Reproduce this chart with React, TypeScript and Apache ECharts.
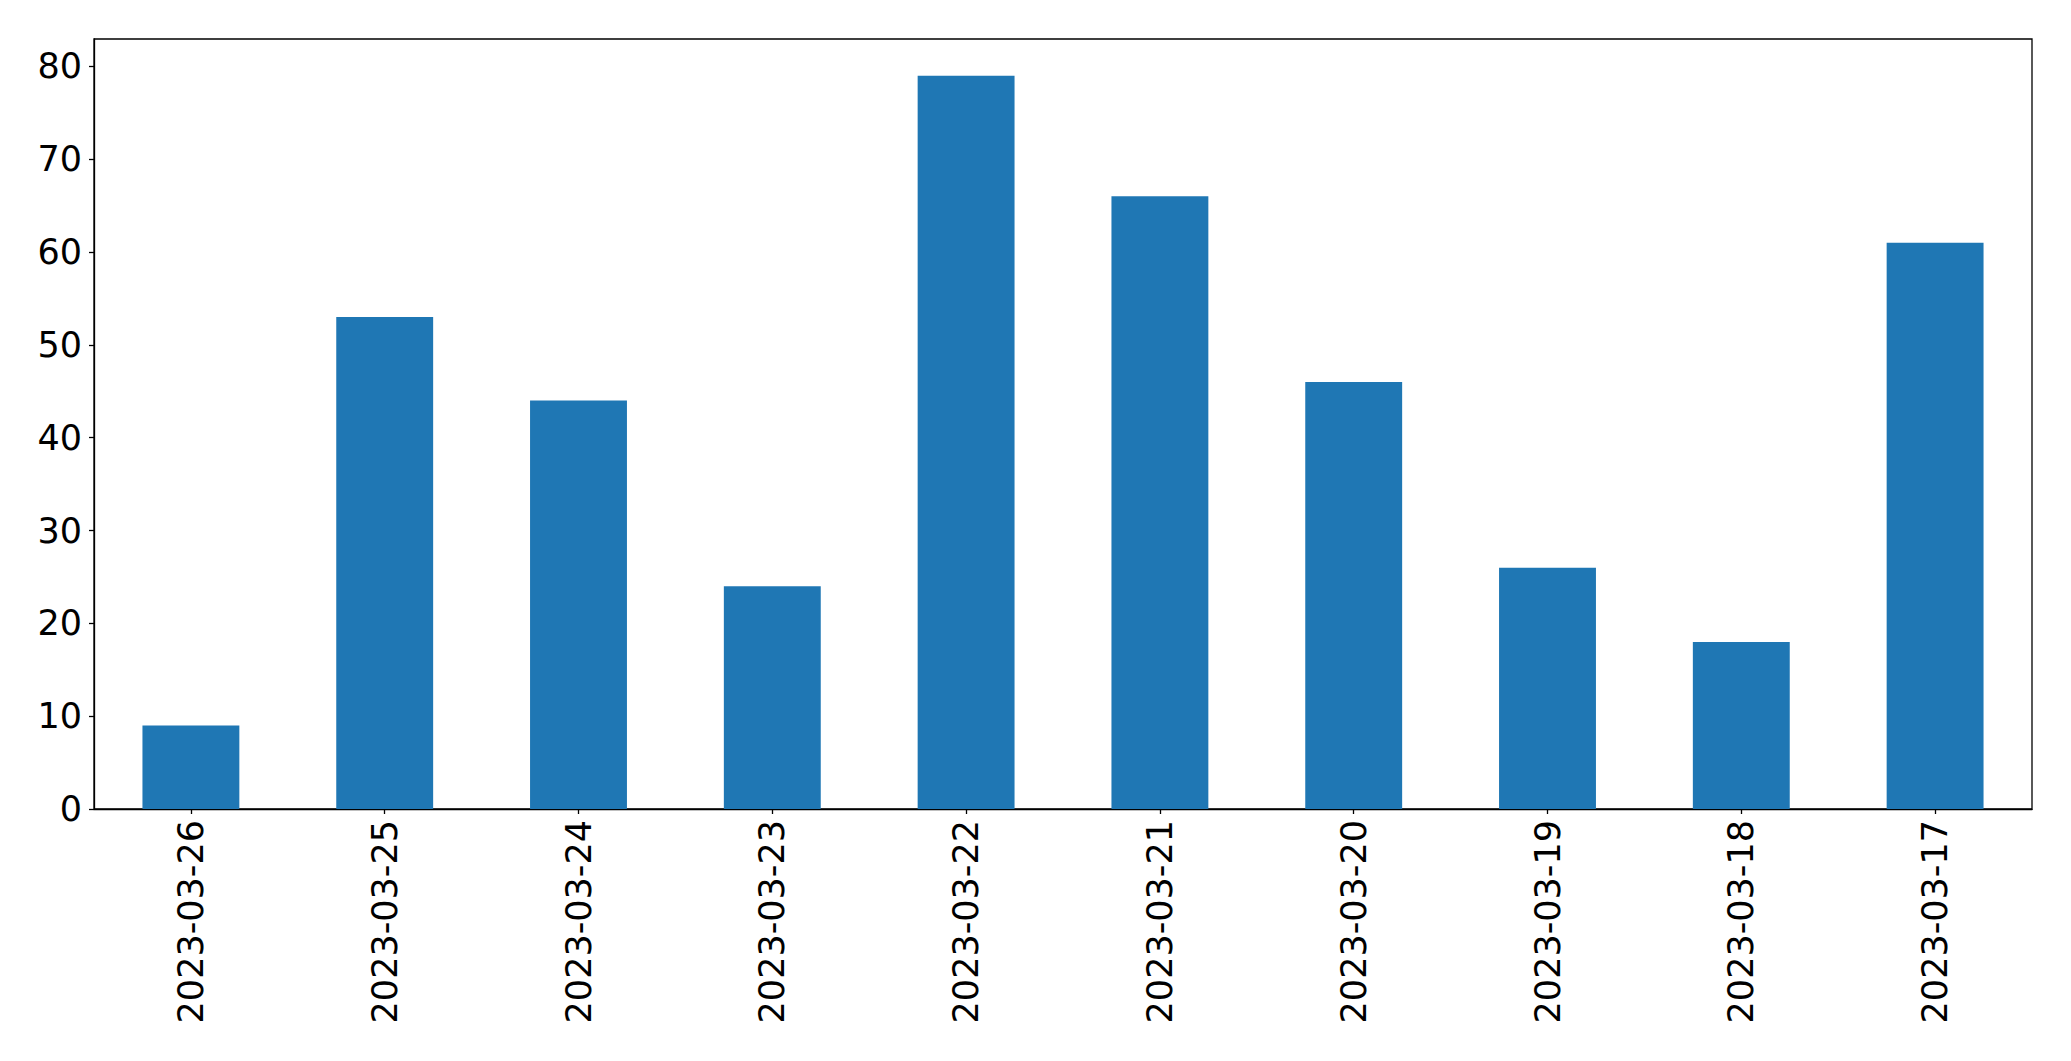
import React, { useEffect, useRef } from "react";
import * as echarts from "echarts";

const categories = [
  "2023-03-26",
  "2023-03-25",
  "2023-03-24",
  "2023-03-23",
  "2023-03-22",
  "2023-03-21",
  "2023-03-20",
  "2023-03-19",
  "2023-03-18",
  "2023-03-17",
];
const values = [9, 53, 44, 24, 79, 66, 46, 26, 18, 61];
const yMax = 82.95;
const yInterval = 10;

export default function App() {
  const ref = useRef<HTMLDivElement>(null);
  useEffect(() => {
    document.body.style.margin = "0";
    const chart = echarts.init(ref.current!, null, { renderer: "svg" });
    const font = "DejaVu Sans";
    chart.setOption({
      animation: false,
      backgroundColor: "#ffffff",
      grid: {
        left: 94,
        top: 39,
        right: 39,
        bottom: 252,
        show: true,
        borderColor: "#000000",
        borderWidth: 1.3,
        backgroundColor: "transparent",
      },
      xAxis: {
        type: "category",
        data: categories,
        axisLine: { show: true, lineStyle: { color: "#000000", width: 1.3 } },
        axisTick: { show: true, alignWithLabel: true, length: 5, lineStyle: { color: "#000000", width: 1.3 } },
        axisLabel: {
          rotate: 90,
          fontSize: 35,
          fontFamily: font,
          color: "#000000",
          margin: 11,
          interval: 0,
        },
        splitLine: { show: false },
      },
      yAxis: {
        type: "value",
        min: 0,
        max: yMax,
        interval: yInterval,
        axisLine: { show: true, lineStyle: { color: "#000000", width: 1.3 } },
        axisTick: { show: true, length: 5, lineStyle: { color: "#000000", width: 1.3 } },
        axisLabel: {
          fontSize: 35,
          fontFamily: font,
          color: "#000000",
          margin: 12,
        },
        splitLine: { show: false },
      },
      series: [
        {
          type: "bar",
          data: values,
          barWidth: "50%",
          itemStyle: { color: "#1f77b4" },
        },
      ],
    });
    return () => chart.dispose();
  }, []);
  return (
    <div
      ref={ref}
      style={{ position: "absolute", left: 0, top: 0, width: 2071, height: 1061 }}
    />
  );
}
